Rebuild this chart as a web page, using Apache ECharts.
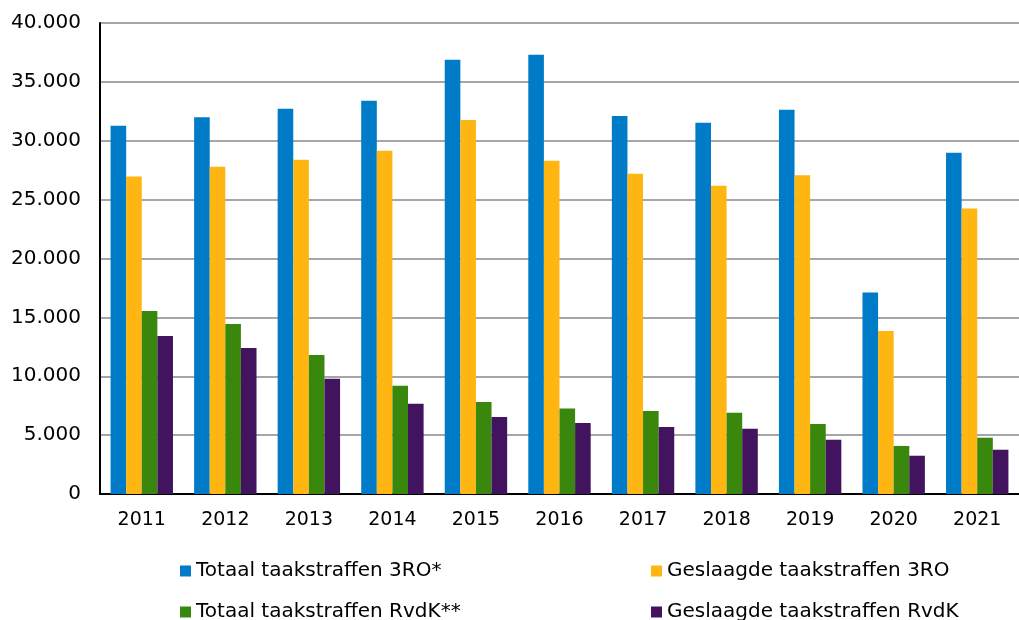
<!DOCTYPE html>
<html>
<head>
<meta charset="utf-8">
<script src="https://cdn.jsdelivr.net/npm/echarts@6/dist/echarts.min.js"></script>
<style>
  html, body { margin: 0; padding: 0; background: #fff; }
  #main { width: 1019px; height: 620px; }
</style>
</head>
<body>
<div id="main"></div>
<script>
const years = ["2011", "2012", "2013", "2014", "2015", "2016", "2017", "2018", "2019", "2020", "2021"];
const totaal3RO = [31280, 32000, 32720, 33400, 36880, 37310, 32100, 31530, 32640, 17120, 28980];
const geslaagd3RO = [26970, 27800, 28390, 29150, 31760, 28300, 27200, 26180, 27060, 13840, 24250];
const totaalRvdK = [15540, 14440, 11800, 9200, 7810, 7270, 7050, 6900, 5950, 4080, 4780];
const geslaagdRvdK = [13420, 12400, 9790, 7670, 6540, 6030, 5690, 5550, 4610, 3250, 3760];
const yTicks = { min: 0, max: 40000, step: 5000 };

const names = [
  "Totaal taakstraffen 3RO*",
  "Geslaagde taakstraffen 3RO",
  "Totaal taakstraffen RvdK**",
  "Geslaagde taakstraffen RvdK"
];
const colors = ["#007BC7", "#FFB612", "#39870C", "#42145F"];
const values = [totaal3RO, geslaagd3RO, totaalRvdK, geslaagdRvdK];

const chart = echarts.init(document.getElementById("main"));
const font = "DejaVu Sans, Verdana, sans-serif";

// one legend per item, laid out as 2 columns x 2 rows
const legendPos = [[180, 561], [651, 561], [180, 602], [651, 602]];
const legends = names.map((n, i) => ({
  left: legendPos[i][0],
  top: legendPos[i][1],
  padding: 0,
  itemWidth: 11,
  itemHeight: 11,
  icon: "rect",
  selectedMode: false,
  data: [n],
  textStyle: { fontFamily: font, fontSize: 20, color: "#000", lineHeight: 20 }
}));

chart.setOption({
  animation: false,
  color: colors,
  grid: { left: 100, right: -13, top: 23, bottom: 126, containLabel: false },
  legend: legends,
  xAxis: {
    type: "category",
    data: years,
    axisTick: { show: false },
    axisLine: { lineStyle: { color: "#000", width: 2 } },
    axisLabel: { fontFamily: font, fontSize: 19, color: "#000", margin: 17 }
  },
  yAxis: {
    type: "value",
    min: yTicks.min,
    max: yTicks.max,
    interval: yTicks.step,
    axisLine: { show: true, lineStyle: { color: "#000", width: 2 } },
    axisTick: { show: false },
    splitLine: { lineStyle: { color: "#A6A6A6", width: 2 } },
    axisLabel: {
      fontFamily: font,
      fontSize: 20,
      color: "#000",
      margin: 19,
      formatter: v => v === 0 ? "0" : v.toLocaleString("de-DE")
    }
  },
  series: values.map((d, i) => ({
    name: names[i],
    type: "bar",
    data: d,
    barWidth: 15.6,
    barGap: "0%",
    itemStyle: { color: colors[i] }
  }))
});
</script>
</body>
</html>
